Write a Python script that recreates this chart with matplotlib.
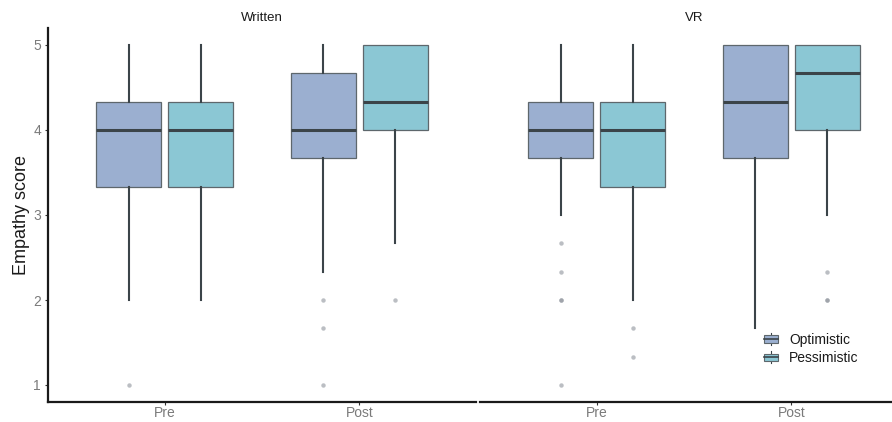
import matplotlib.pyplot as plt
import numpy as np
from matplotlib.legend_handler import HandlerBase
from matplotlib.patches import Rectangle
from matplotlib.lines import Line2D

plt.rcParams['font.family'] = ['Liberation Sans', 'DejaVu Sans']

# Facets, time points and groups
facets = ['Written', 'VR']
times = ['Pre', 'Post']
groups = ['Optimistic', 'Pessimistic']

# Box statistics, order: [facet][time][group]
medians = [[[4.00, 4.00], [4.00, 4.33]],
           [[4.00, 4.00], [4.33, 4.67]]]
q1s = [[[3.33, 3.33], [3.67, 4.00]],
       [[3.67, 3.33], [3.67, 4.00]]]
q3s = [[[4.33, 4.33], [4.67, 5.00]],
       [[4.33, 4.33], [5.00, 5.00]]]
whis_lo = [[[2.00, 2.00], [2.33, 2.67]],
           [[3.00, 2.00], [1.67, 3.00]]]
whis_hi = [[[5.00, 5.00], [5.00, 5.00]],
           [[5.00, 5.00], [5.00, 5.00]]]
outliers = [[[[1.00], []], [[2.00, 1.67, 1.00], [2.00]]],
            [[[2.67, 2.33, 2.00, 2.00, 1.00], [1.67, 1.33]], [[], [2.33, 2.00, 2.00]]]]

colors = {'Optimistic': '#9BAFD0', 'Pessimistic': '#8BC7D4'}
dark = '#3B4449'
edge = '#5E676C'

fig = plt.figure(figsize=(8.92, 4.22), dpi=100)
W, H = 892, 422
panel_w = 428
lefts = [48, 480]
bottom_px, top_px = 402, 28

axes = []
for fi, facet in enumerate(facets):
    ax = fig.add_axes([lefts[fi] / W, 1 - bottom_px / H, panel_w / W, (bottom_px - top_px) / H])
    axes.append(ax)
    for ti in range(len(times)):
        for gi, g in enumerate(groups):
            st = dict(med=medians[fi][ti][gi], q1=q1s[fi][ti][gi], q3=q3s[fi][ti][gi],
                      whislo=whis_lo[fi][ti][gi], whishi=whis_hi[fi][ti][gi],
                      fliers=outliers[fi][ti][gi])
            pos = ti + 1 + (gi - 0.5) * 0.37
            ax.bxp([st], positions=[pos], widths=0.335, patch_artist=True,
                   showcaps=False,
                   boxprops=dict(facecolor=colors[g], edgecolor=edge, linewidth=0.9),
                   medianprops=dict(color=dark, linewidth=2.2),
                   whiskerprops=dict(color=dark, linewidth=1.5),
                   flierprops=dict(marker='o', markersize=3.2, markerfacecolor='#8E949C',
                                   markeredgecolor='none', alpha=0.6))
    ax.set_xlim(0.4, 2.6)
    ax.set_ylim(0.8, 5.2)
    ax.set_xticks([1, 2])
    ax.set_xticklabels(times)
    for s in ['top', 'right']:
        ax.spines[s].set_visible(False)
    ax.spines['bottom'].set_linewidth(1.6)
    ax.spines['bottom'].set_color('#1a1a1a')
    ax.tick_params(axis='both', labelsize=10, labelcolor='#7a7a7a', color='#333333',
                   length=2, width=0.8, pad=1)
    ax.set_title(facet, fontsize=9.5, color='#1a1a1a', pad=5)
    if fi == 0:
        ax.spines['left'].set_linewidth(1.6)
        ax.spines['left'].set_color('#1a1a1a')
        ax.set_yticks([1, 2, 3, 4, 5])
        ax.tick_params(axis='y', pad=3)
        ax.set_ylabel('Empathy score', fontsize=13, color='#1a1a1a', labelpad=2)
    else:
        ax.spines['left'].set_visible(False)
        ax.set_yticks([])

# Legend keys drawn as small boxplot glyphs
class BoxHandler(HandlerBase):
    def create_artists(self, legend, orig, xdescent, ydescent, width, height, fontsize, trans):
        cx = width / 2 - xdescent
        bw = 10
        r = Rectangle((cx - bw / 2, -ydescent + height * 0.12), bw, height * 0.76,
                      facecolor=orig.get_facecolor(), edgecolor=edge, linewidth=0.8, transform=trans)
        ln = Line2D([cx - bw / 2, cx + bw / 2], [-ydescent + height / 2] * 2, color=dark,
                    linewidth=1.2, transform=trans)
        wl = Line2D([cx, cx], [-ydescent - height * 0.1, -ydescent + height * 1.1], color=dark,
                    linewidth=0.8, transform=trans)
        return [wl, r, ln]

handles = [Rectangle((0, 0), 1, 1, facecolor=colors[g]) for g in groups]
axes[1].legend(handles, groups, handler_map={Rectangle: BoxHandler()},
               loc='lower left', bbox_to_anchor=(0.635, 0.065), frameon=False,
               fontsize=10, handlelength=1.0, handletextpad=0.8, labelspacing=0.3,
               labelcolor='#1a1a1a')

fig.savefig('out.png', dpi=100)
